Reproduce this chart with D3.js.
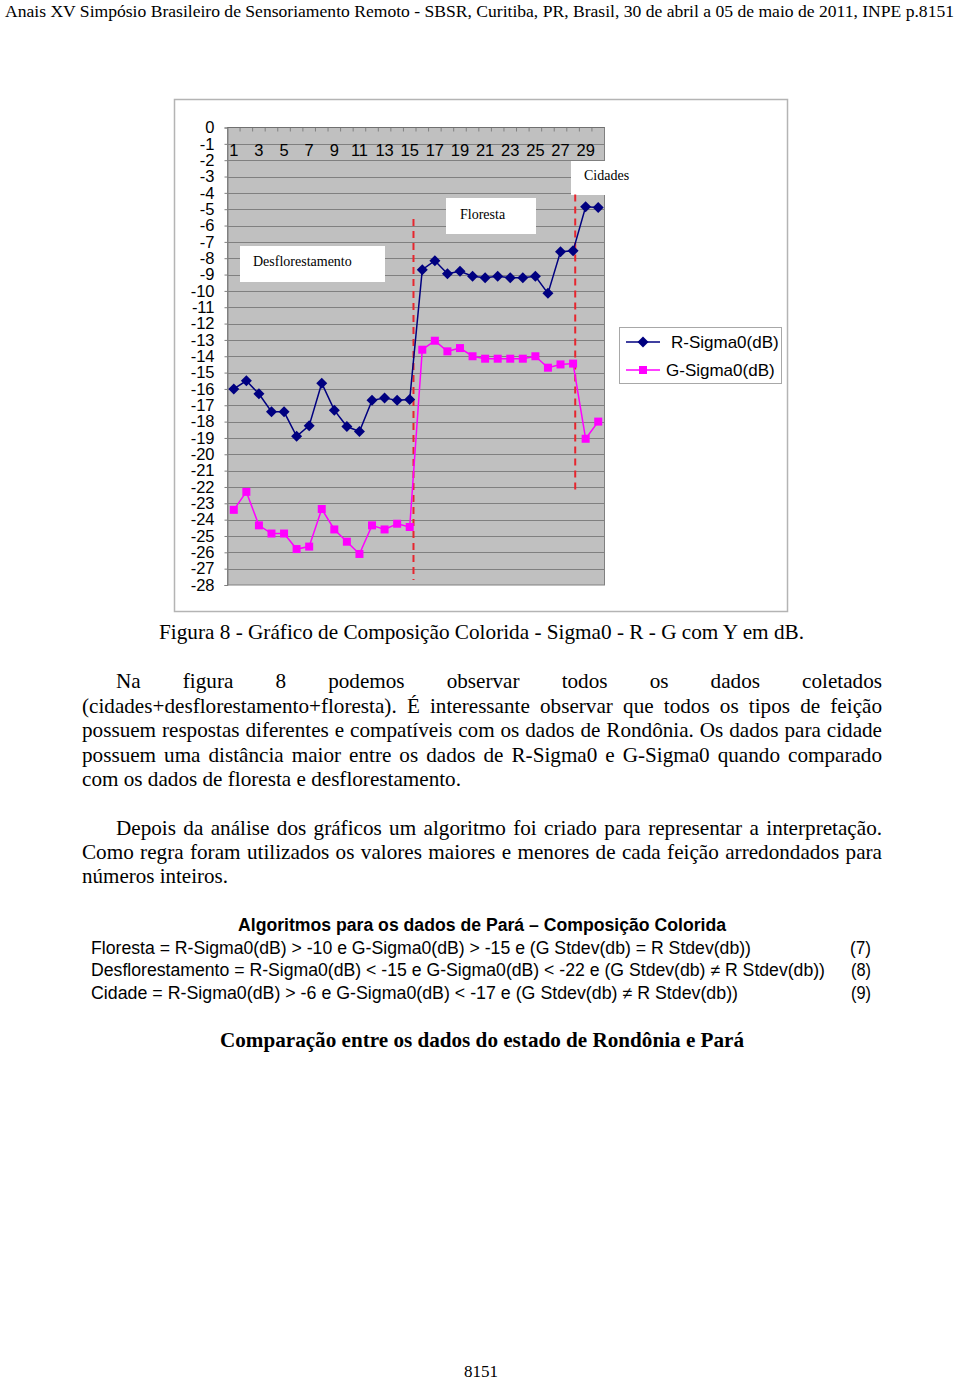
<!DOCTYPE html>
<html><head><meta charset="utf-8">
<script src="https://cdn.jsdelivr.net/npm/d3@7/dist/d3.min.js"></script>
<style>body{margin:0;background:#fff}</style></head>
<body>
<svg id="c" width="960" height="1381"></svg>
<script>
// ---------------- DATA ----------------
const categories = d3.range(1, 31);
const rSigma = [-16.0, -15.5, -16.3, -17.4, -17.4, -18.9, -18.25, -15.65, -17.3, -18.3,
                -18.6, -16.7, -16.55, -16.7, -16.65, -8.7, -8.15, -8.95, -8.8, -9.1,
                -9.2, -9.1, -9.2, -9.2, -9.1, -10.15, -7.6, -7.55, -4.85, -4.9];
const gSigma = [-23.4, -22.3, -24.35, -24.85, -24.85, -25.8, -25.65, -23.35, -24.6, -25.35,
                -26.1, -24.35, -24.6, -24.25, -24.45, -13.6, -13.05, -13.7, -13.5, -14.0,
                -14.15, -14.15, -14.15, -14.15, -14.0, -14.7, -14.5, -14.45, -19.05, -18.0];
const yTicks = d3.range(0, -29, -1);
const xTickLabels = categories.filter(d => d % 2 === 1);
const seriesNames = ["R-Sigma0(dB)", "G-Sigma0(dB)"];
const regionLabels = ["Desflorestamento", "Floresta", "Cidades"];
const dividerAt = [15.3, 28.17];
const dividerTop = [-5.6, -4.1];
const dividerBottom = [-27.7, -22.3];

// ---------------- CHART ----------------
const svg = d3.select("#c");
const L = 227.5, R = 604.5, T = 127.5, B = 585;
const x = d3.scaleBand().domain(categories).range([L, R]).paddingInner(0).paddingOuter(0);
const bw = x.bandwidth();
const y = d3.scaleLinear().domain([-28, 0]).range([B, T]);
const xc = d => x(d) + bw / 2;
const xf = d3.scaleLinear().domain([1, 30]).range([xc(1), xc(30)]);

// outer frame
svg.append("rect").attr("x", 174.5).attr("y", 99.5).attr("width", 613).attr("height", 512)
  .attr("fill", "#fff").attr("stroke", "#b4b4b4").attr("stroke-width", 1.5);

// plot background
svg.append("rect").attr("x", L).attr("y", T).attr("width", R - L).attr("height", B - T)
  .attr("fill", "#c0c0c0");

// gridlines
svg.append("g").selectAll("line").data(yTicks.filter(v => v < 0 && v > -28)).join("line")
  .attr("x1", L).attr("x2", R).attr("y1", d => Math.round(y(d)) + 0.5).attr("y2", d => Math.round(y(d)) + 0.5)
  .attr("stroke", "#808080").attr("stroke-width", 1);

svg.append("rect").attr("x", L).attr("y", T).attr("width", R - L).attr("height", B - T)
  .attr("fill", "none").attr("stroke", "#808080").attr("stroke-width", 1);

// y axis
const yAxis = d3.axisLeft(y).tickValues(yTicks).tickSize(3).tickPadding(10).tickFormat(d => String(d));
const gy = svg.append("g").attr("transform", `translate(${L},0)`).call(yAxis);
gy.select(".domain").attr("stroke", "#808080");
gy.selectAll(".tick line").attr("stroke", "#808080");
gy.selectAll("text").attr("font-family", "Liberation Sans, Arial, sans-serif").attr("font-size", 16.5).attr("fill", "#000");

// x axis at top (y = 0), ticks between categories pointing down
svg.append("g").selectAll("line").data(categories.concat([31])).join("line")
  .attr("x1", d => (d <= 30 ? x(d) : R)).attr("x2", d => (d <= 30 ? x(d) : R))
  .attr("y1", T).attr("y2", T + 4).attr("stroke", "#808080");
svg.append("line").attr("x1", L).attr("x2", R).attr("y1", T).attr("y2", T).attr("stroke", "#707070");
const xAxis = d3.axisBottom(x).tickValues(xTickLabels).tickSize(0).tickPadding(17);
const gx = svg.append("g").attr("transform", `translate(0,${T})`).call(xAxis);
gx.select(".domain").remove();
gx.selectAll("text").attr("font-family", "Liberation Sans, Arial, sans-serif").attr("font-size", 16.5).attr("fill", "#000");

// region label boxes
const boxes = [
  {x: 240, y: 246, w: 145, h: 36},
  {x: 446, y: 198, w: 90, h: 36},
  {x: 571, y: 161, w: 70, h: 34}
];
boxes.forEach((b, i) => {
  svg.append("rect").attr("x", b.x).attr("y", b.y).attr("width", b.w).attr("height", b.h).attr("fill", "#fff");
});
const labelPos = [[253, 266], [460, 219], [584, 180]];
regionLabels.forEach((t, i) => {
  svg.append("text").attr("x", labelPos[i][0]).attr("y", labelPos[i][1]).text(t)
    .attr("font-family", "Liberation Serif, Times New Roman, serif").attr("font-size", 14).attr("fill", "#000");
});

// dashed dividers
dividerAt.forEach((c, i) => {
  svg.append("line").attr("x1", xf(c)).attr("x2", xf(c)).attr("y1", y(dividerTop[i])).attr("y2", y(dividerBottom[i]))
    .attr("stroke", "#e6262e").attr("stroke-width", 2).attr("stroke-dasharray", "7,5");
});

// series
const line = d3.line().x((d, i) => xc(categories[i])).y(d => y(d));
svg.append("path").datum(gSigma).attr("d", line).attr("fill", "none").attr("stroke", "#ff00ff").attr("stroke-width", 1.5);
svg.append("path").datum(rSigma).attr("d", line).attr("fill", "none").attr("stroke", "#000080").attr("stroke-width", 1.5);

const sq = 8;
svg.append("g").selectAll("rect").data(gSigma).join("rect")
  .attr("x", (d, i) => xc(categories[i]) - sq / 2).attr("y", d => y(d) - sq / 2)
  .attr("width", sq).attr("height", sq).attr("fill", "#ff00ff");
const dm = 5.5;
const diamond = (cx, cy) => `M${cx},${cy - dm}L${cx + dm},${cy}L${cx},${cy + dm}L${cx - dm},${cy}Z`;
svg.append("g").selectAll("path").data(rSigma).join("path")
  .attr("d", (d, i) => diamond(xc(categories[i]), y(d))).attr("fill", "#000080");

// legend
svg.append("rect").attr("x", 619.5).attr("y", 327.5).attr("width", 162).attr("height", 56)
  .attr("fill", "#fff").attr("stroke", "#a8a8a8").attr("stroke-width", 1);
const legY = [342, 370];
const legCol = ["#000080", "#ff00ff"];
seriesNames.forEach((n, i) => {
  svg.append("line").attr("x1", 626).attr("x2", 660).attr("y1", legY[i]).attr("y2", legY[i])
    .attr("stroke", legCol[i]).attr("stroke-width", 1.5);
  if (i === 0) svg.append("path").attr("d", diamond(643, legY[i])).attr("fill", legCol[i]);
  else svg.append("rect").attr("x", 643 - sq / 2).attr("y", legY[i] - sq / 2).attr("width", sq).attr("height", sq).attr("fill", legCol[i]);
  svg.append("text").attr("x", i === 0 ? 671 : 666).attr("y", legY[i] + 6).text(n)
    .attr("font-family", "Liberation Sans, Arial, sans-serif").attr("font-size", 17).attr("fill", "#000");
});

// ---------------- PAGE TEXT ----------------
const SERIF = "Liberation Serif, Times New Roman, serif";
const SANS = "Liberation Sans, Arial, sans-serif";
function fixed(str, x0, x1, yb, font, size, weight) {
  svg.append("text").attr("x", x0).attr("y", yb).text(str)
    .attr("font-family", font).attr("font-size", size).attr("font-weight", weight || "normal")
    .attr("textLength", x1 - x0).attr("lengthAdjust", "spacingAndGlyphs").attr("fill", "#000");
}
const probe = svg.append("text").attr("font-family", SERIF).attr("font-size", 21)
  .text("com os dados de floresta e desflorestamento.");
const cf = 379 / probe.node().getComputedTextLength();
probe.remove();
function justify(str, x0, x1, yb) {
  const words = str.split(" ");
  const nodes = words.map(w => svg.append("text").attr("y", yb).text(w)
    .attr("font-family", SERIF).attr("font-size", 21).attr("fill", "#000"));
  const ws = nodes.map(n => n.node().getComputedTextLength() * cf);
  const tot = d3.sum(ws);
  const gap = (x1 - x0 - tot) / (words.length - 1);
  let cx = x0;
  nodes.forEach((n, i) => {
    n.attr("x", cx).attr("textLength", ws[i]).attr("lengthAdjust", "spacingAndGlyphs");
    cx += ws[i] + gap;
  });
}

fixed("Anais XV Simpósio Brasileiro de Sensoriamento Remoto - SBSR, Curitiba, PR, Brasil, 30 de abril a 05 de maio de 2011, INPE  p.8151", 5, 954, 17, SERIF, 17);
fixed("Figura 8 - Gráfico de Composição Colorida - Sigma0 - R - G com Y em dB.", 159, 804, 639, SERIF, 21);

justify("Na figura 8 podemos observar todos os dados coletados", 116, 882, 688);
justify("(cidades+desflorestamento+floresta). É interessante observar que todos os tipos de feição", 82, 882, 713);
justify("possuem respostas diferentes e compatíveis com os dados de Rondônia. Os dados para cidade", 82, 882, 737);
justify("possuem uma distância maior entre os dados de R-Sigma0 e G-Sigma0 quando comparado", 82, 882, 762);
fixed("com os dados de floresta e desflorestamento.", 82, 461, 786, SERIF, 21);

justify("Depois da análise dos gráficos um algoritmo foi criado para representar a interpretação.", 116, 882, 835);
justify("Como regra foram utilizados os valores maiores e menores de cada feição arredondados para", 82, 882, 859);
fixed("números inteiros.", 82, 228, 883, SERIF, 21);

fixed("Algoritmos para os dados de Pará – Composição Colorida", 238, 726, 931, SANS, 17.5, "bold");
fixed("Floresta = R-Sigma0(dB) > -10 e G-Sigma0(dB) > -15 e (G Stdev(db) = R Stdev(db))", 91, 751, 954, SANS, 17.5);
fixed("(7)", 850, 871, 954, SANS, 17.5);
fixed("Desflorestamento = R-Sigma0(dB) < -15 e G-Sigma0(dB) < -22 e (G Stdev(db) ≠ R Stdev(db))", 91, 825, 976, SANS, 17.5);
fixed("(8)", 851, 871, 976, SANS, 17.5);
fixed("Cidade =  R-Sigma0(dB) > -6 e G-Sigma0(dB) < -17 e (G Stdev(db) ≠ R Stdev(db))", 91, 738, 999, SANS, 17.5);
fixed("(9)", 851, 871, 999, SANS, 17.5);

fixed("Comparação entre os dados do estado de Rondônia e Pará", 220, 744, 1047, SERIF, 21, "bold");
fixed("8151", 464, 498, 1377, SERIF, 16);
</script>
</body></html>
